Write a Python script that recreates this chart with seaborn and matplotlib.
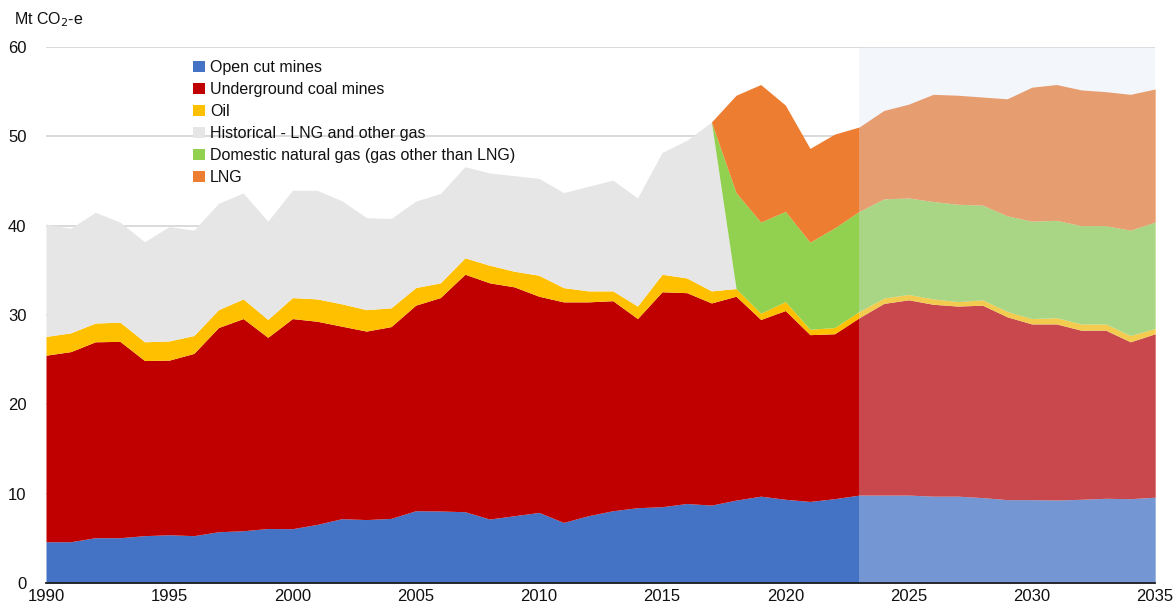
import seaborn as sns
import matplotlib.pyplot as plt
from matplotlib.ticker import MultipleLocator
import numpy as np

years = list(range(1990, 2036))

# Mt CO2-e (component values, stacked bottom to top)
open_cut = [4.62, 4.62, 5.07, 5.07, 5.30, 5.40, 5.30, 5.74, 5.85, 6.10,
            6.08, 6.56, 7.20, 7.10, 7.23, 8.09, 8.06, 7.98, 7.16, 7.53,
            7.90, 6.78, 7.53, 8.09, 8.43, 8.54, 8.90, 8.72, 9.28, 9.72,
            9.37, 9.13, 9.44, 9.84, 9.84, 9.84, 9.72, 9.72, 9.56, 9.33,
            9.33, 9.29, 9.37, 9.48, 9.44, 9.60]
underground = [20.88, 21.28, 21.93, 21.98, 19.60, 19.55, 20.40, 22.86, 23.75, 21.40,
               23.52, 22.74, 21.55, 21.10, 21.47, 23.01, 23.89, 26.58, 26.44, 25.62,
               24.20, 24.69, 23.94, 23.51, 21.17, 24.06, 23.60, 22.63, 22.82, 19.78,
               21.13, 18.67, 18.46, 19.86, 21.46, 21.86, 21.48, 21.28, 21.54, 20.47,
               19.67, 19.71, 18.93, 18.82, 17.56, 18.30]
oil = [2.10, 2.10, 2.10, 2.15, 2.10, 2.15, 2.00, 2.00, 2.20, 2.00,
       2.35, 2.50, 2.50, 2.40, 2.10, 1.97, 1.65, 1.84, 1.97, 1.75,
       2.35, 1.60, 1.23, 1.10, 1.40, 1.96, 1.65, 1.35, 0.86, 0.70,
       1.00, 0.60, 0.70, 0.70, 0.60, 0.60, 0.60, 0.50, 0.60, 0.60,
       0.60, 0.70, 0.70, 0.70, 0.70, 0.60]
historical_gas = [12.60, 11.70, 12.40, 11.20, 11.20, 12.80, 11.80, 11.90, 11.86, 11.00,
                  12.01, 12.16, 11.55, 10.30, 10.00, 9.68, 10.00, 10.20, 10.33, 10.70,
                  10.85, 10.63, 11.70, 12.40, 12.10, 13.64, 15.40, 18.90, 0, 0,
                  0, 0, 0, 0, 0, 0, 0, 0, 0, 0,
                  0, 0, 0, 0, 0, 0]
domestic_gas = [0] * 28 + [10.74, 10.20, 10.10, 9.75, 11.15, 11.20, 11.10, 10.80,
                           10.90, 10.90, 10.60, 10.70, 10.90, 10.90, 11.00, 11.00,
                           11.80, 11.90]
lng = [0] * 28 + [10.90, 15.40, 11.90, 10.50, 10.50, 9.45, 9.90, 10.50,
                  12.00, 12.20, 12.10, 13.10, 15.00, 15.20, 15.20, 15.00,
                  15.20, 14.90]

labels = ["Open cut mines", "Underground coal mines", "Oil",
          "Historical - LNG and other gas", "Domestic natural gas (gas other than LNG)", "LNG"]
colors = ["#4472C4", "#C00000", "#FFC000", "#E6E6E6", "#92D050", "#ED7D31"]

projection_start = 2023

sns.set_theme(style="white")
plt.rcParams['font.family'] = ['Liberation Sans', 'DejaVu Sans']

fig = plt.figure(figsize=(11.74, 6.07), dpi=100)
ax = fig.add_axes([46 / 1174, 24 / 607, 1109 / 1174, 536 / 607])

ax.stackplot(years, open_cut, underground, oil, historical_gas, domestic_gas, lng,
             labels=labels, colors=colors, linewidth=0, zorder=2)

# projection shading
ax.axvspan(projection_start, years[-1], ymin=0, ymax=1, color="#dae3f3",
           alpha=0.32, linewidth=0, zorder=3)

ax.set_xlim(1990, 2035)
ax.set_ylim(0, 60)
ax.yaxis.set_major_locator(MultipleLocator(10))
ax.xaxis.set_major_locator(MultipleLocator(5))
ax.xaxis.set_minor_locator(MultipleLocator(1))
ax.grid(axis='y', color="#d4d4d4", linewidth=1.2, zorder=0)
ax.set_axisbelow(True)

sns.despine(ax=ax, left=True, top=True, right=True)
ax.spines['bottom'].set_color("#1f1f1f")
ax.spines['bottom'].set_linewidth(1.3)
ax.spines['bottom'].set_zorder(5)

ax.tick_params(axis='x', which='both', direction='in', length=5, width=1,
               color="#1f1f1f", labelsize=12, pad=4)
ax.tick_params(axis='y', which='both', length=0, labelsize=12, pad=14)
for lab in ax.get_xticklabels() + ax.get_yticklabels():
    lab.set_color("#111111")

fig.text(14 / 1174, 1 - 20 / 607, "Mt CO$_2$-e", fontsize=11.5, va='center', ha='left',
         color="#111111")

leg = ax.legend(loc='upper left', bbox_to_anchor=(193 / 1174, 1 - 60 / 607),
                bbox_transform=fig.transFigure, frameon=False, fontsize=11.5,
                handlelength=0.75, handleheight=0.75, handletextpad=0.3,
                labelspacing=0.44, borderpad=0, borderaxespad=0)
for t in leg.get_texts():
    t.set_color("#111111")

plt.savefig("out.png", dpi=100)
